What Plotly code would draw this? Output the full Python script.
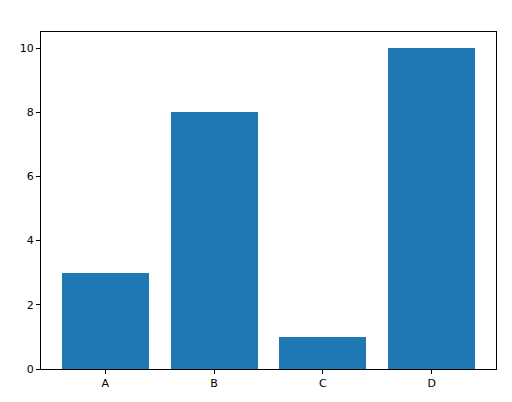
import plotly.graph_objects as go

categories = ['A', 'B', 'C', 'D']
values = [3, 8, 1, 10]

fig = go.Figure(go.Bar(
    x=list(range(len(categories))),
    y=values,
    width=0.8,
    marker=dict(color='#1f77b4', line=dict(width=0)),
))

axis_style = dict(
    showline=True, mirror=True, linecolor='black', linewidth=1,
    ticks='outside', ticklen=4, tickcolor='black', showgrid=False,
    zeroline=False, tickfont=dict(family='DejaVu Sans', size=11, color='black'),
)

fig.update_layout(
    width=512, height=402,
    margin=dict(l=33, r=24, t=24, b=41),
    plot_bgcolor='white', paper_bgcolor='white',
    showlegend=False,
    bargap=0,
    xaxis=dict(range=[-0.59, 3.59], tickvals=list(range(len(categories))),
               ticktext=categories, **axis_style),
    yaxis=dict(range=[0, 10.5], tickvals=[0, 2, 4, 6, 8, 10], **axis_style),
)

fig.write_html("out.html")
